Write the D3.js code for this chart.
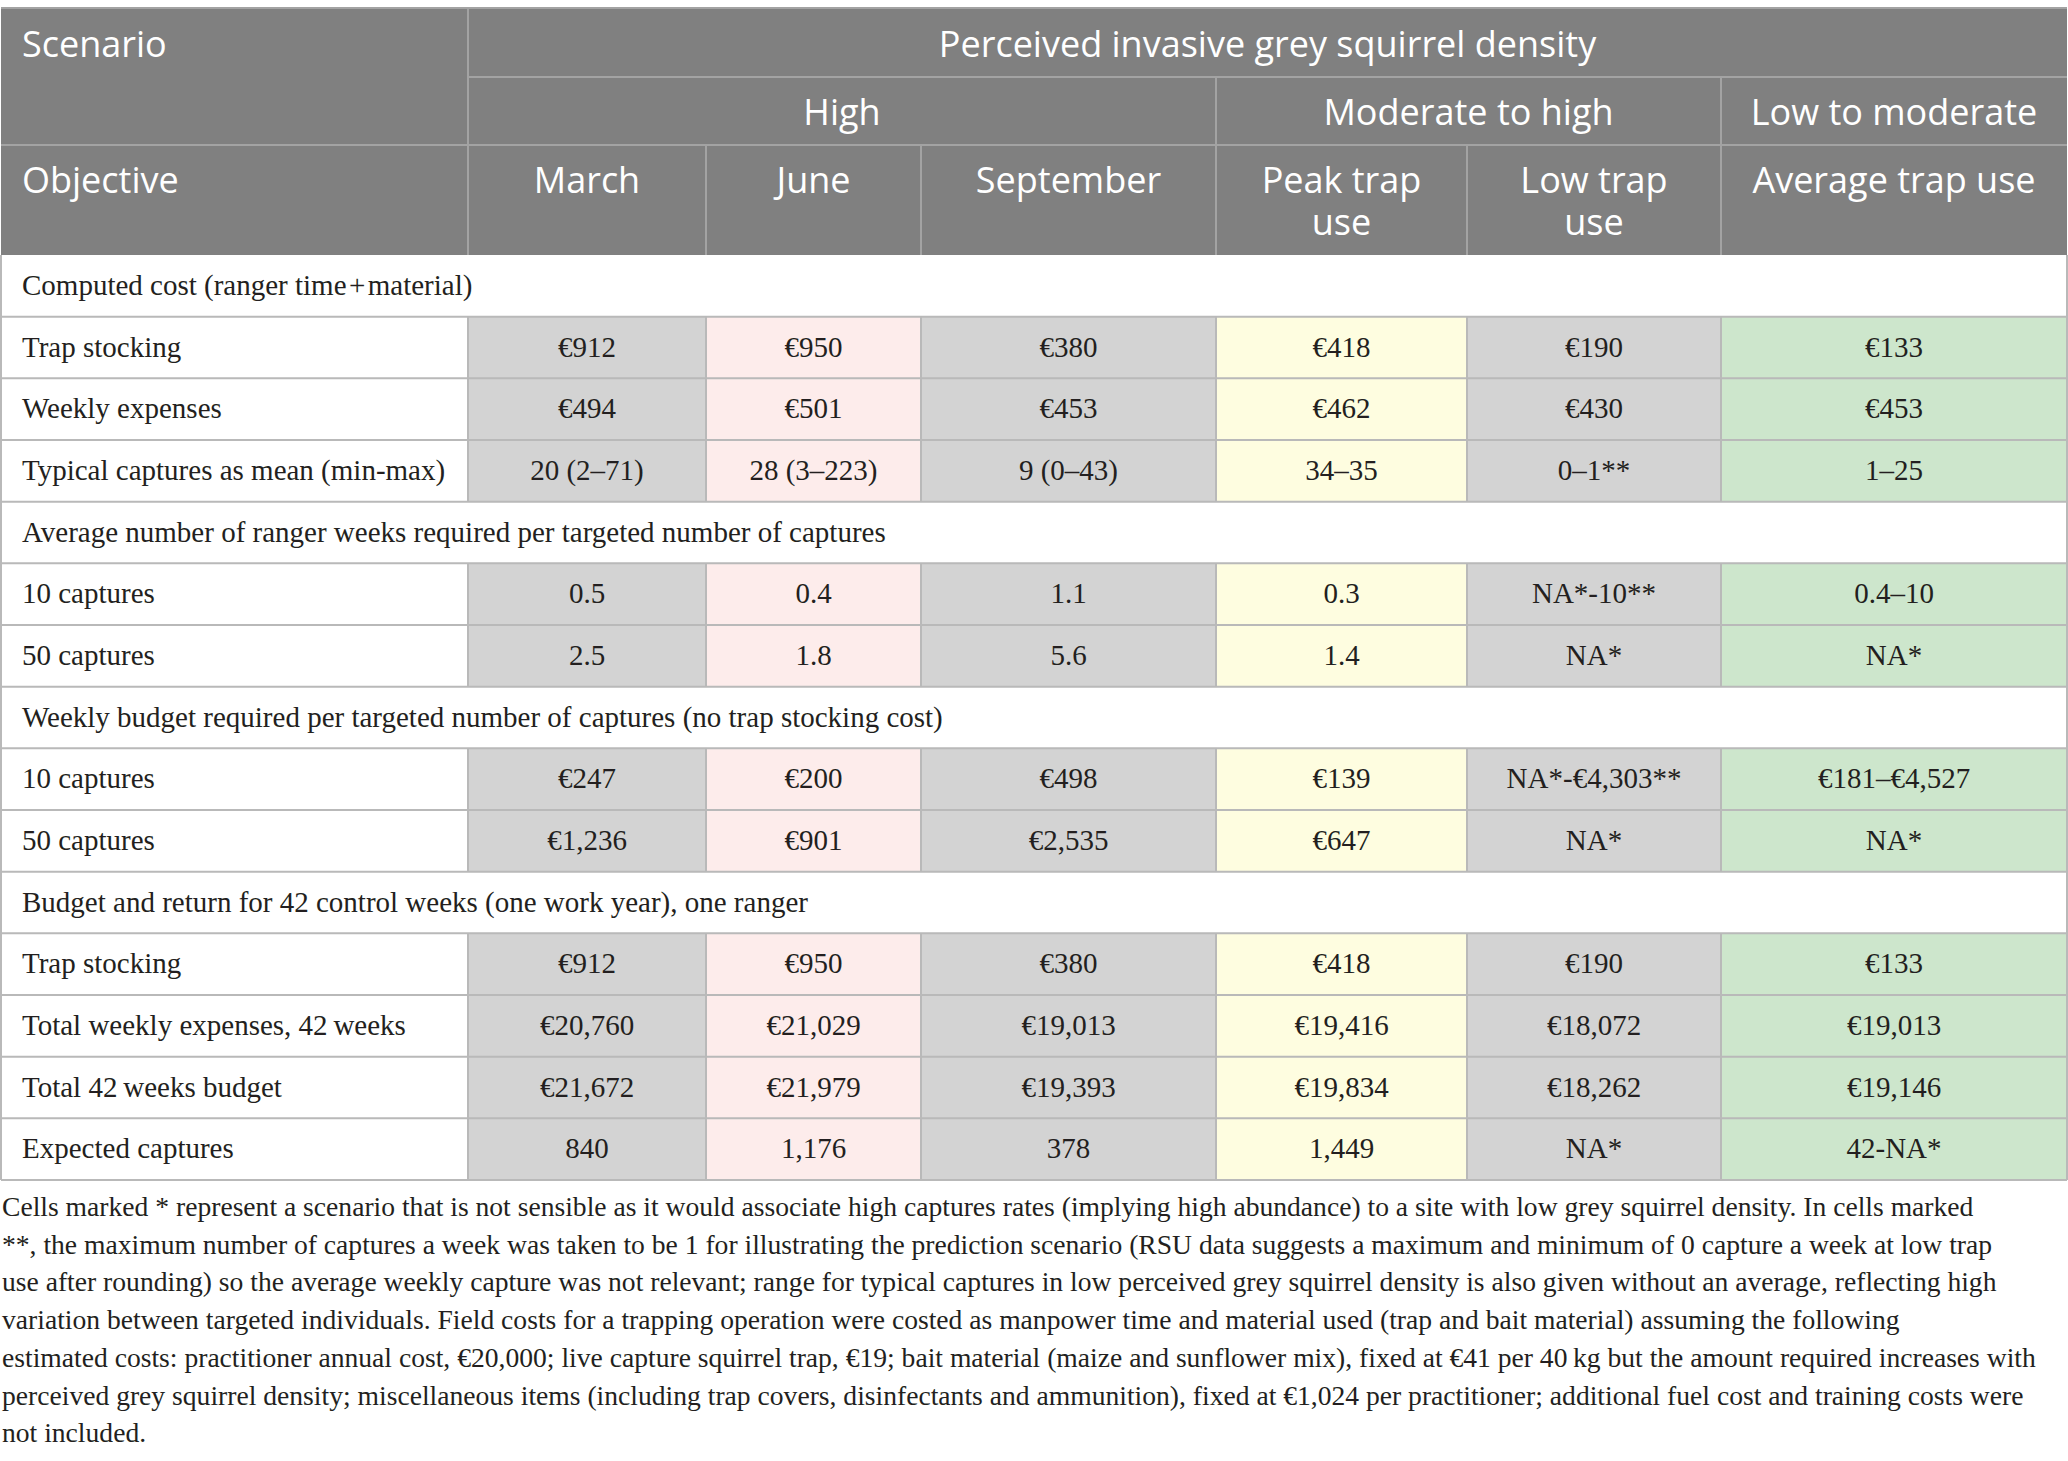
<!DOCTYPE html>
<html>
<head>
<meta charset="utf-8">
<script src="https://cdn.jsdelivr.net/npm/d3@7"></script>
<style>
  html, body { margin: 0; padding: 0; background: #fff; }
  svg { display: block; }
  .hd { font-family: "Open Sans", Lato, sans-serif; font-size: 36px; fill: #fff; }
  .bd { font-family: "Liberation Serif", "DejaVu Serif", serif; font-size: 29px; fill: #231f20; }
  .fn { font-size: 27.6px; }
</style>
</head>
<body>
<div id="chart"></div>
<script>
// ---- data ----
var columns = ['March', 'June', 'September', 'Peak trap\nuse', 'Low trap\nuse', 'Average trap use'];
var densityGroups = ['High', 'Moderate to high', 'Low to moderate'];
var groupSpan = [3, 2, 1];

var sections = [
  'Computed cost (ranger time\u200a+\u200amaterial)',
  'Average number of ranger weeks required per targeted number of captures',
  'Weekly budget required per targeted number of captures (no trap stocking cost)',
  'Budget and return for 42 control weeks (one work year), one ranger'
];

var rowLabels = [
  ['Trap stocking', 'Weekly expenses', 'Typical captures as mean (min-max)'],
  ['10 captures', '50 captures'],
  ['10 captures', '50 captures'],
  ['Trap stocking', 'Total weekly expenses, 42\u2009weeks', 'Total 42\u2009weeks budget', 'Expected captures']
];

var rowValues = [
  [
    ['€912', '€950', '€380', '€418', '€190', '€133'],
    ['€494', '€501', '€453', '€462', '€430', '€453'],
    ['20 (2–71)', '28 (3–223)', '9 (0–43)', '34–35', '0–1**', '1–25']
  ],
  [
    ['0.5', '0.4', '1.1', '0.3', 'NA*-10**', '0.4–10'],
    ['2.5', '1.8', '5.6', '1.4', 'NA*', 'NA*']
  ],
  [
    ['€247', '€200', '€498', '€139', 'NA*-€4,303**', '€181–€4,527'],
    ['€1,236', '€901', '€2,535', '€647', 'NA*', 'NA*']
  ],
  [
    ['€912', '€950', '€380', '€418', '€190', '€133'],
    ['€20,760', '€21,029', '€19,013', '€19,416', '€18,072', '€19,013'],
    ['€21,672', '€21,979', '€19,393', '€19,834', '€18,262', '€19,146'],
    ['840', '1,176', '378', '1,449', 'NA*', '42-NA*']
  ]
];

var footnote = [
  'Cells marked * represent a scenario that is not sensible as it would associate high captures rates (implying high abundance) to a site with low grey squirrel density. In cells marked',
  '**, the maximum number of captures a week was taken to be 1 for illustrating the prediction scenario (RSU data suggests a maximum and minimum of 0 capture a week at low trap',
  'use after rounding) so the average weekly capture was not relevant; range for typical captures in low perceived grey squirrel density is also given without an average, reflecting high',
  'variation between targeted individuals. Field costs for a trapping operation were costed as manpower time and material used (trap and bait material) assuming the following',
  'estimated costs: practitioner annual cost, €20,000; live capture squirrel trap, €19; bait material (maize and sunflower mix), fixed at €41 per 40\u2009kg but the amount required increases with',
  'perceived grey squirrel density; miscellaneous items (including trap covers, disinfectants and ammunition), fixed at €1,024 per practitioner; additional fuel cost and training costs were',
  'not included.'
];

// ---- layout ----
var width = 2068, height = 1461;
var colEdges = [1, 468, 706, 921, 1216, 1467, 1721, 2067];
var colFill = ['#d3d3d3', '#fdeceb', '#d3d3d3', '#fefde0', '#d3d3d3', '#cde6cc'];
var headTop = 8, head1 = 77, head2 = 145, headBottom = 255, tableBottom = 1180;
var headGrey = '#808080', headLine = '#a3a3a3', gridLine = '#b9b9b9';

// flatten body rows (section rows + data rows)
var bodyRows = [];
sections.forEach(function (s, i) {
  bodyRows.push({ type: 'section', label: s });
  rowLabels[i].forEach(function (l, j) {
    bodyRows.push({ type: 'data', label: l, values: rowValues[i][j] });
  });
});

var x = d3.scaleOrdinal()
  .domain(d3.range(colEdges.length))
  .range(colEdges);
var y = d3.scaleLinear()
  .domain([0, bodyRows.length])
  .range([headBottom, tableBottom]);

var svg = d3.select('#chart').append('svg')
  .attr('width', width)
  .attr('height', height);

// header background
svg.append('rect')
  .attr('x', x(0)).attr('y', headTop)
  .attr('width', x(7) - x(0)).attr('height', headBottom - headTop)
  .attr('fill', headGrey);

var hl = svg.append('g').attr('stroke', headLine).attr('stroke-width', 2);
hl.append('line').attr('x1', x(0)).attr('x2', x(7)).attr('y1', headTop).attr('y2', headTop);
hl.append('line').attr('x1', x(1)).attr('x2', x(7)).attr('y1', head1).attr('y2', head1);
hl.append('line').attr('x1', x(0)).attr('x2', x(7)).attr('y1', head2).attr('y2', head2);
hl.append('line').attr('x1', x(1)).attr('x2', x(1)).attr('y1', headTop).attr('y2', headBottom);

// group dividers in second header row
var groupStart = [1];
groupSpan.forEach(function (n, i) { groupStart.push(groupStart[i] + n); });
groupStart.slice(1, -1).forEach(function (c) {
  hl.append('line').attr('x1', x(c)).attr('x2', x(c)).attr('y1', head1).attr('y2', headBottom);
});
d3.range(2, 7).forEach(function (c) {
  if (groupStart.indexOf(c) < 0) {
    hl.append('line').attr('x1', x(c)).attr('x2', x(c)).attr('y1', head2).attr('y2', headBottom);
  }
});

svg.append('text').attr('class', 'hd').attr('x', 22).attr('y', 57).text('Scenario');
svg.append('text').attr('class', 'hd').attr('x', (x(1) + x(7)) / 2).attr('y', 57)
  .attr('text-anchor', 'middle').text('Perceived invasive grey squirrel density');

svg.selectAll('text.grp').data(densityGroups).enter()
  .append('text').attr('class', 'hd grp')
  .attr('x', function (d, i) { return (x(groupStart[i]) + x(groupStart[i + 1])) / 2; })
  .attr('y', 125)
  .attr('text-anchor', 'middle')
  .text(function (d) { return d; });

svg.append('text').attr('class', 'hd').attr('x', 22).attr('y', 193).text('Objective');

// column headings, one text per line so the two-line cells stay separate
columns.forEach(function (d, i) {
  var cx = (x(i + 1) + x(i + 2)) / 2;
  d.split('\n').forEach(function (t, k) {
    svg.append('text').attr('class', 'hd col')
      .attr('text-anchor', 'middle')
      .attr('x', cx)
      .attr('y', 193 + k * 42)
      .text(t);
  });
});

// body
var rowG = svg.selectAll('g.row').data(bodyRows).enter()
  .append('g').attr('class', 'row')
  .attr('transform', function (d, i) { return 'translate(0,' + y(i) + ')'; });
var rh = y(1) - y(0);

rowG.filter(function (d) { return d.type === 'data'; })
  .selectAll('rect').data(function (d) { return d.values; }).enter()
  .append('rect')
  .attr('x', function (v, j) { return x(j + 1); })
  .attr('width', function (v, j) { return x(j + 2) - x(j + 1); })
  .attr('y', 0).attr('height', rh)
  .attr('fill', function (v, j) { return colFill[j]; });

// grid lines
var gl = svg.append('g').attr('stroke', gridLine).attr('stroke-width', 2).attr('fill', 'none');
bodyRows.forEach(function (d, i) {
  gl.append('line').attr('x1', x(0)).attr('x2', x(7)).attr('y1', y(i + 1)).attr('y2', y(i + 1));
  if (d.type === 'data') {
    d3.range(1, 7).forEach(function (c) {
      gl.append('line').attr('x1', x(c)).attr('x2', x(c)).attr('y1', y(i)).attr('y2', y(i + 1));
    });
  }
});
gl.append('line').attr('x1', x(0)).attr('x2', x(0)).attr('y1', headBottom).attr('y2', tableBottom);
gl.append('line').attr('x1', x(7)).attr('x2', x(7)).attr('y1', headBottom).attr('y2', tableBottom);

rowG.append('text').attr('class', 'bd')
  .attr('x', 22).attr('y', 40)
  .text(function (d) { return d.label; });

rowG.filter(function (d) { return d.type === 'data'; })
  .selectAll('text.val').data(function (d) { return d.values; }).enter()
  .append('text').attr('class', 'bd val')
  .attr('text-anchor', 'middle')
  .attr('x', function (v, j) { return (x(j + 1) + x(j + 2)) / 2; })
  .attr('y', 40)
  .text(function (v) { return v; });

// footnote
svg.selectAll('text.fn').data(footnote).enter()
  .append('text').attr('class', 'bd fn')
  .attr('x', 2)
  .attr('y', function (d, i) { return 1216 + i * 37.7; })
  .text(function (d) { return d; });
</script>
</body>
</html>
